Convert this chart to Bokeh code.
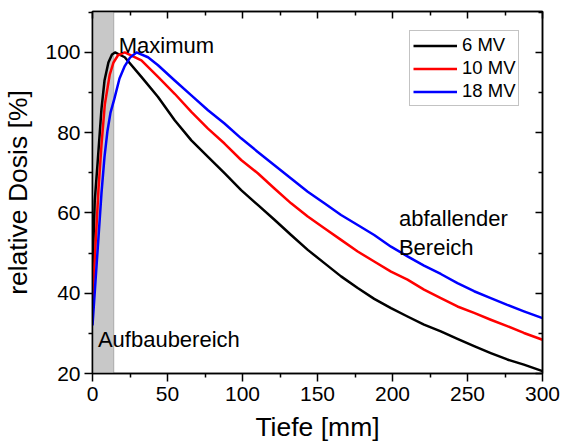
from bokeh.plotting import figure
from bokeh.models import (ColumnDataSource, LinearAxis, BoxAnnotation, Label,
                          Legend, LegendItem, Range1d, FixedTicker)
from bokeh.embed import file_html
from bokeh.resources import INLINE

# ---- data ----
depth_6mv = [0, 1.5, 3.3, 6, 8, 10.6, 13, 15, 21.5, 32.6, 43.7, 54.8, 65.9, 77, 88,
             99.1, 110.2, 121.3, 132.4, 143.5, 154.6, 165.7, 176.8, 187.8, 199,
             210, 221, 232.2, 243.3, 254.4, 265.5, 276.5, 287.6, 300]
dose_6mv = [46, 63, 72, 86, 93, 97.5, 99.5, 100, 98.8, 93.9, 88.9, 83.1, 78.1, 74,
            69.9, 65.7, 62, 58.3, 54.5, 50.8, 47.5, 44.2, 41.3, 38.6, 36.3, 34.2,
            32.2, 30.5, 28.6, 26.8, 25.1, 23.5, 22.2, 20.6]

depth_10mv = [0, 2, 4, 6, 8.2, 11.5, 14, 17, 21.5, 32.6, 43.7, 54.8, 65.9, 77, 88,
              99.1, 110.2, 121.3, 132.4, 143.5, 154.6, 165.7, 176.8, 187.8, 199,
              210, 221, 232.2, 243.3, 254.4, 265.5, 276.5, 287.6, 300]
dose_10mv = [38.4, 52, 66, 77, 87, 94.5, 97.5, 99.3, 100, 98, 93.9, 89.7, 85.2, 81,
             77.3, 73.2, 69.9, 66.1, 62.4, 59.1, 56.2, 53.3, 50.4, 47.9, 45.4, 43.4,
             40.9, 38.8, 36.7, 35.1, 33.4, 31.8, 30.1, 28.4]

depth_18mv = [0, 2, 4, 6, 8, 10, 12, 14.6, 18, 21.5, 25, 29.3, 37, 43.7, 54.8, 65.9,
              77, 88, 99.1, 110.2, 121.3, 132.4, 143.5, 154.6, 165.7, 176.8, 187.8,
              199, 210, 221, 232.2, 243.3, 254.4, 265.5, 276.5, 287.6, 300]
dose_18mv = [32, 43, 54, 65, 74, 80.5, 85, 88.5, 93.5, 96.6, 98.7, 100, 98.8, 96.8,
             93, 89.3, 85.6, 82.3, 78.6, 75.2, 71.9, 68.6, 65.3, 62.4, 59.5, 57, 54.5,
             51.6, 49.2, 46.9, 44.8, 42.5, 40.5, 38.8, 37.1, 35.5, 33.8]

series_names = ["6 MV", "10 MV", "18 MV"]
series_colors = ["#000000", "#ff0000", "#0000ff"]

buildup_end = 14.2  # mm, end of shaded build-up region

x_ticks = [0, 50, 100, 150, 200, 250, 300]
y_ticks = [20, 40, 60, 80, 100]
x_minor = [25, 75, 125, 175, 225, 275]
y_minor = [30, 50, 70, 90, 110]

FONT = "Liberation Sans"

p = figure(width=563, height=444, output_backend="svg", toolbar_location=None,
           x_range=Range1d(0, 300), y_range=Range1d(20, 110.2),
           min_border_left=91, min_border_right=21, min_border_top=11,
           min_border_bottom=70)
p.grid.visible = False
p.outline_line_color = "black"
p.outline_line_width = 1.5
p.background_fill_color = "white"
p.border_fill_color = "white"

# shaded build-up region
p.add_layout(BoxAnnotation(left=0, right=buildup_end, fill_color="#c8c8c8",
                           fill_alpha=1.0, line_color="#404040", line_width=1,
                           level="underlay"))

renderers = []
for xs, ys, c in [(depth_6mv, dose_6mv, series_colors[0]),
                  (depth_10mv, dose_10mv, series_colors[1]),
                  (depth_18mv, dose_18mv, series_colors[2])]:
    src = ColumnDataSource(dict(x=xs, y=ys))
    r = p.line("x", "y", source=src, line_color=c, line_width=2.5,
               line_join="round")
    renderers.append(r)

def style_axis(ax, ticks, minor, labels=True):
    ax.ticker = FixedTicker(ticks=ticks, minor_ticks=minor)
    ax.axis_line_color = "black"
    ax.axis_line_width = 1.5
    ax.major_tick_line_width = 1.5
    ax.minor_tick_line_width = 1.5
    ax.major_tick_line_color = "black"
    ax.minor_tick_line_color = "black"
    if labels:
        ax.major_tick_out = 8
        ax.major_tick_in = 0
        ax.minor_tick_out = 4
        ax.minor_tick_in = 0
        ax.major_label_text_font = FONT
        ax.major_label_text_font_size = "21px"
        ax.major_label_text_color = "black"
        ax.axis_label_text_font = FONT
        ax.axis_label_text_font_size = "26.5px"
        ax.axis_label_text_font_style = "normal"
        ax.axis_label_text_color = "black"
    else:
        ax.major_tick_out = 0
        ax.major_tick_in = 7
        ax.minor_tick_out = 0
        ax.minor_tick_in = 4
        ax.major_label_overrides = {t: "" for t in ticks}
        ax.major_label_text_font_size = "1px"
        ax.major_label_standoff = 0

xa = p.xaxis[0]
ya = p.yaxis[0]
style_axis(xa, x_ticks, x_minor)
style_axis(ya, y_ticks, y_minor)
xa.axis_label = "Tiefe [mm]"
ya.axis_label = "relative Dosis [%]"
xa.major_label_standoff = 5
ya.major_label_standoff = 4
xa.axis_label_standoff = 8
ya.axis_label_standoff = 9

top = LinearAxis()
style_axis(top, x_ticks, x_minor, labels=False)
p.add_layout(top, "above")
right = LinearAxis()
style_axis(right, y_ticks, y_minor, labels=False)
p.add_layout(right, "right")

# annotations
for txt, x, y in [("Maximum", 17.5, 101.7), ("Aufbaubereich", 3.6, 28.4),
                  ("abfallender", 204.3, 58.5), ("Bereich", 204.3, 51.5)]:
    p.add_layout(Label(x=x, y=y, text=txt, text_font=FONT, text_font_size="22px",
                       text_color="black", text_baseline="alphabetic",
                       text_align="left"))

legend = Legend(items=[LegendItem(label=n, renderers=[r])
                       for n, r in zip(series_names, renderers)],
                location=(317, 267))
legend.label_text_font = FONT
legend.label_text_font_size = "18.5px"
legend.label_text_color = "black"
legend.glyph_width = 44
legend.glyph_height = 21
legend.label_height = 21
legend.label_standoff = 5
legend.spacing = 1
legend.padding = 3
legend.margin = 0
legend.border_line_color = "#888888"
legend.border_line_width = 1
legend.background_fill_alpha = 1.0
p.add_layout(legend)

open("out.html", "w").write(file_html(p, INLINE))
